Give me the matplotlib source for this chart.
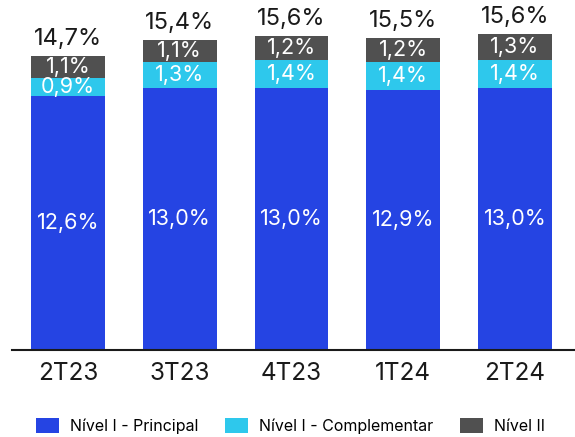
import matplotlib.pyplot as plt
import numpy as np

plt.rcParams['font.family'] = ['Inter', 'DejaVu Sans']

periods = ['2T23', '3T23', '4T23', '1T24', '2T24']
principal = [12.6, 13.0, 13.0, 12.9, 13.0]
complementar = [0.9, 1.3, 1.4, 1.4, 1.4]
nivel2 = [1.1, 1.1, 1.2, 1.2, 1.3]
totals = [14.7, 15.4, 15.6, 15.5, 15.6]

c_blue = '#2544E3'
c_cyan = '#2EC8EC'
c_gray = '#505050'


def fmt(v):
    return f'{v:.1f}%'.replace('.', ',')


fig = plt.figure(figsize=(5.75, 4.37), dpi=100)
ax = fig.add_axes([12 / 575, 1 - 350 / 437, 563 / 575, 350 / 437])

x = np.arange(len(periods))
w = 0.66
b1 = ax.bar(x, principal, w, color=c_blue, label='Nível I - Principal')
b2 = ax.bar(x, complementar, w, bottom=principal, color=c_cyan,
            label='Nível I - Complementar')
bottom3 = [p + c for p, c in zip(principal, complementar)]
b3 = ax.bar(x, nivel2, w, bottom=bottom3, color=c_gray, label='Nível II')

for i in range(len(periods)):
    ax.text(x[i], principal[i] / 2, fmt(principal[i]), ha='center',
            va='center', color='white', fontsize=15.5)
    ax.text(x[i], principal[i] + complementar[i] / 2, fmt(complementar[i]),
            ha='center', va='center', color='white', fontsize=15.5)
    ax.text(x[i], bottom3[i] + nivel2[i] / 2, fmt(nivel2[i]),
            ha='center', va='center', color='white', fontsize=15.5)
    ax.text(x[i], bottom3[i] + nivel2[i] + 0.3, fmt(totals[i]),
            ha='center', va='bottom', color='#1a1a1a', fontsize=17)

ax.set_xlim(-0.501, 4.537)
ax.set_ylim(0, 17.37)
ax.set_xticks(x)
ax.set_xticklabels(periods, fontsize=17.5, color='#1a1a1a')
ax.tick_params(axis='x', length=0, pad=9)
ax.set_yticks([])
for s in ['top', 'right', 'left']:
    ax.spines[s].set_visible(False)
ax.spines['bottom'].set_linewidth(1.5)
ax.spines['bottom'].set_color('#1a1a1a')

fig.legend(handles=[b1, b2, b3], loc='center', ncol=3,
           bbox_to_anchor=(0.505, 1 - 426 / 437), frameon=False,
           fontsize=11.5, handlelength=1.45, handleheight=1.05,
           handletextpad=0.7, columnspacing=1.65)

fig.savefig('out.png', dpi=100)
